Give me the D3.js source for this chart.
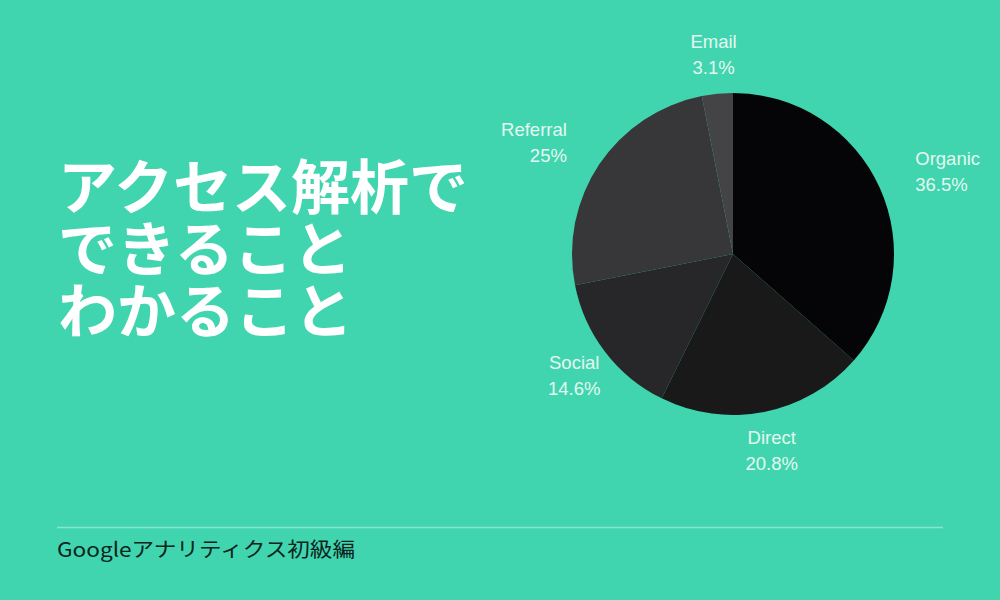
<!DOCTYPE html>
<html>
<head>
<meta charset="utf-8">
<script src="https://cdn.jsdelivr.net/npm/d3@7"></script>
<style>
  html, body { margin: 0; padding: 0; background: #40d5af; }
  svg { display: block; }
</style>
</head>
<body>
<svg id="viz"></svg>
<script>
// traffic sources, clockwise from 12 o'clock
const sources = ["Organic", "Direct", "Social", "Referral", "Email"];
const shares = [36.5, 20.8, 14.6, 25, 3.1];
const shareLabels = ["36.5%", "20.8%", "14.6%", "25%", "3.1%"];
const sliceColors = ["#050507", "#19191a", "#272729", "#37373a", "#444446"];

const titleLines = ["アクセス解析で", "できること", "わかること"];
const footerText = "Googleアナリティクス初級編";

width = 1000;
height = 600;

svg = d3.select("#viz")
  .attr("width", width)
  .attr("height", height)
  .attr("viewBox", [0, 0, width, height]);

svg.append("rect")
  .attr("width", width)
  .attr("height", height)
  .attr("fill", "#40d5af");

// title, one text block with a line per tspan
svg.append("text")
  .attr("font-family", "'Noto Sans CJK JP', sans-serif")
  .attr("font-weight", 700)
  .attr("font-size", 59)
  .attr("fill", "#ffffff")
  .selectAll("tspan")
  .data(titleLines)
  .join("tspan")
  .attr("x", 58)
  .attr("y", (d, i) => 209 + i * 62)
  .text(d => d);

// footer
svg.append("line")
  .attr("x1", 57).attr("x2", 943)
  .attr("y1", 527.5).attr("y2", 527.5)
  .attr("stroke", "#86e6cf")
  .attr("stroke-width", 1.5);

svg.append("text")
  .attr("x", 57)
  .attr("y", 557)
  .attr("font-family", "'Noto Sans CJK JP', sans-serif")
  .attr("font-size", 20)
  .attr("fill", "#0b241d")
  .attr("textLength", 298)
  .attr("lengthAdjust", "spacingAndGlyphs")
  .text(footerText);

// pie
const cx = 733, cy = 254, r = 161, labelR = 200;
const data = sources.map((s, i) => ({ name: s, value: shares[i], label: shareLabels[i], color: sliceColors[i] }));

const pie = d3.pie().sort(null).value(d => d.value);
const arc = d3.arc().innerRadius(0).outerRadius(r);
const arcs = pie(data);

const g = svg.append("g").attr("transform", `translate(${cx},${cy})`);

g.selectAll("path")
  .data(arcs)
  .join("path")
  .attr("d", arc)
  .attr("fill", d => d.data.color);

const labels = g.selectAll("g.lbl")
  .data(arcs)
  .join("g")
  .attr("class", "lbl");

labels.each(function(d) {
  const a = (d.startAngle + d.endAngle) / 2;
  const x = Math.sin(a) * labelR;
  const y = -Math.cos(a) * labelR;
  const t = d3.select(this).append("text")
    .attr("font-family", "'Liberation Sans', Arial, sans-serif")
    .attr("font-size", 18.5)
    .attr("fill", "#e4f7f0")
    .attr("text-anchor", "middle");
  t.append("tspan").attr("x", x).attr("y", y - 13).attr("dy", "0.35em").text(d.data.name);
  t.append("tspan").attr("x", x).attr("y", y + 13).attr("dy", "0.35em").text(d.data.label);

  // if the label box clips the pie, anchor it away from the pie instead
  const b = t.node().getBBox();
  const nx = Math.max(b.x, Math.min(0, b.x + b.width));
  const ny = Math.max(b.y, Math.min(0, b.y + b.height));
  if (Math.hypot(nx, ny) < r + 3) {
    t.attr("text-anchor", x > 0 ? "start" : "end");
  }
});
</script>
</body>
</html>
